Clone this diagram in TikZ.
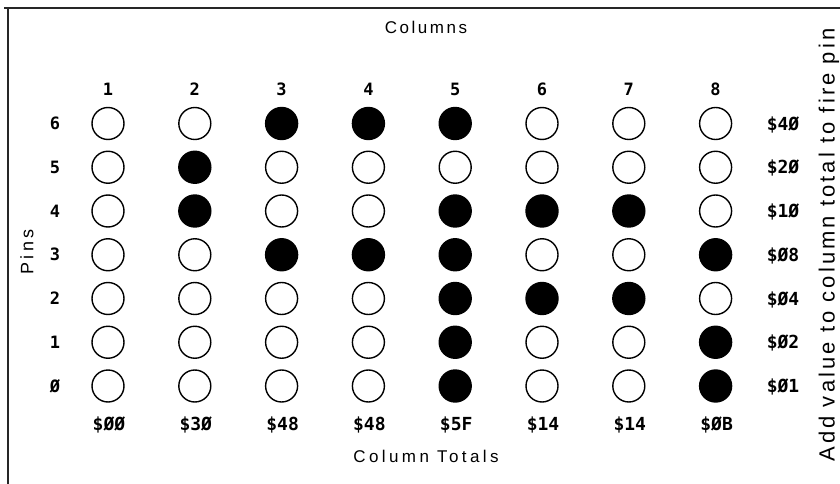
\documentclass[tikz,border=0pt]{standalone}
\usepackage{fontspec}
\setmainfont{Liberation Sans}
\newfontfamily\monob{DejaVu Sans Mono}
\newfontfamily\spacedA[LetterSpace=15]{Liberation Sans}
\newfontfamily\spacedB[LetterSpace=20]{Liberation Sans}
\newfontfamily\spacedC[LetterSpace=14]{Liberation Sans}
\begin{document}
\begin{tikzpicture}[x=1pt,y=-1pt,
  hole/.style={circle,draw=black,line width=1.4pt,minimum size=32pt,inner sep=0pt},
  full/.style={hole,fill=black},
  num/.style={font=\monob\bfseries\fontsize{17}{17}\selectfont,inner sep=0pt},
  val/.style={font=\monob\bfseries\fontsize{18}{18}\selectfont,inner sep=0pt},
  frame/.style={line width=2pt,draw=black!85}]
\useasboundingbox (0,0) rectangle (840,484);
% frame
\coordinate (tl) at (8,8);
\coordinate (tr) at (840,8);
\coordinate (tl0) at (4,8);
\coordinate (bl) at (8,484);
\draw[frame] (tl0) -- (tr);
\draw[frame] (tl) -- (bl);
% pins
\foreach \c/\v in {1/0,2/48,3/72,4/72,5/95,6/20,7/20,8/11}{
  \foreach \r in {0,...,6}{
    \pgfmathtruncatemacro\bit{mod(floor(\v/2^\r),2)}
    \ifnum\bit=1 \def\st{full}\else\def\st{hole}\fi
    \node[\st] (p\c\r) at ({108+86.8*(\c-1)},{386-43.75*\r}) {};
  }
}
% column numbers
\foreach \c in {1,...,8}
  \node[num] (col\c) at ({108+86.8*(\c-1)},89) {\c};
% row numbers and pin values
\foreach \r/\t/\w in {0/Ø/\$Ø1,1/1/\$Ø2,2/2/\$Ø4,3/3/\$Ø8,4/4/\$1Ø,5/5/\$2Ø,6/6/\$4Ø}{
  \node[num] (row\r) at (55,{386-43.75*\r}) {\t};
  \node[val] (v\r) at (783,{387-43.75*\r}) {\w};
}
% column totals
\foreach \c/\t in {1/\$ØØ,2/\$3Ø,3/\$48,4/\$48,5/\$5F,6/\$14,7/\$14,8/\$ØB}
  \node[val] (t\c) at ({109+86.8*(\c-1)},425) {\t};
% titles
\node[font=\spacedA\fontsize{17}{17}\selectfont,inner sep=0pt] (columns) at (426,27) {Columns};
\node[font=\spacedB\fontsize{17}{17}\selectfont,inner sep=0pt] (totals) at (426,456) {Column Totals};
\node[font=\spacedB\fontsize{18}{18}\selectfont,inner sep=0pt,rotate=90] (pinslab) at (27,252) {Pins};
\node[font=\spacedC\fontsize{22}{22}\selectfont,inner sep=0pt,rotate=90] (note) at (829,245) {Add value to column total to fire pin};
\end{tikzpicture}
\end{document}
